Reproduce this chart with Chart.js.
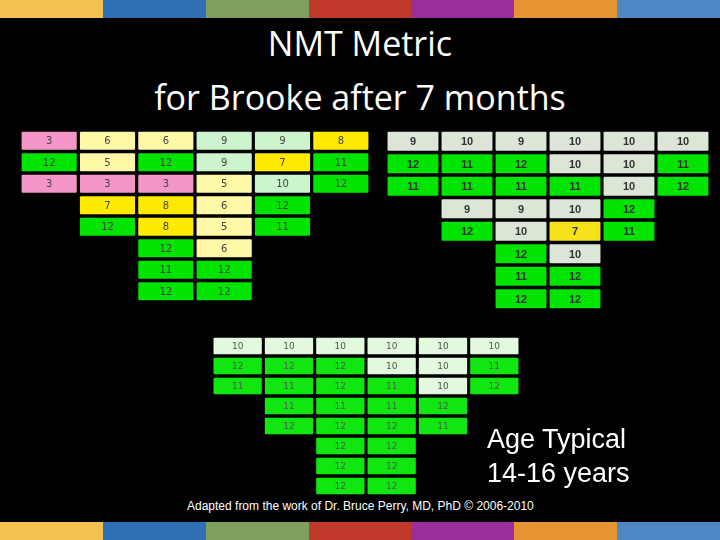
<!DOCTYPE html>
<html><head><meta charset="utf-8">
<script src="https://cdn.jsdelivr.net/npm/chart.js@4/dist/chart.umd.min.js"></script>
<style>
body{margin:0;background:#000;width:720px;height:540px;overflow:hidden;position:relative;font-family:"Open Sans","Liberation Sans",sans-serif;}
.stripe{position:absolute;left:0;width:720px;height:18px;display:flex}
.stripe div{flex:1}
.box{position:absolute}
#title{position:absolute;left:0;top:16px;width:720px;text-align:center;color:#fff;font-size:34px;line-height:54px}
#age{position:absolute;left:487px;top:422px;color:#fff;font-family:"Liberation Sans",Arial,sans-serif;font-size:27px;line-height:34px}
#credit{position:absolute;left:187px;top:499px;color:#fff;font-family:"Liberation Sans",Arial,sans-serif;font-size:12px}
</style></head><body>
<div class="stripe" style="top:0"><div style="background:#f2c14e"></div><div style="background:#2f6fb5"></div><div style="background:#7f9f5f"></div><div style="background:#c0392b"></div><div style="background:#9a2e9a"></div><div style="background:#e69433"></div><div style="background:#4f87c5"></div></div>
<div class="stripe" style="top:522px"><div style="background:#f2c14e"></div><div style="background:#2f6fb5"></div><div style="background:#7f9f5f"></div><div style="background:#c0392b"></div><div style="background:#9a2e9a"></div><div style="background:#e69433"></div><div style="background:#4f87c5"></div></div>
<div id="title">NMT Metric<br>for Brooke after 7 months</div>
<div class="box" style="left:20px;top:130px;width:350px;height:172px"><canvas id="c1"></canvas></div>
<div class="box" style="left:386px;top:130px;width:324px;height:180px"><canvas id="c2"></canvas></div>
<div class="box" style="left:212px;top:336px;width:308px;height:160px"><canvas id="c3"></canvas></div>
<div id="age">Age Typical<br>14-16 years</div>
<div id="credit">Adapted from the work of Dr. Bruce Perry, MD, PhD © 2006-2010</div>
<script>
const rowLabels = ['1','2','3','4','5','6','7','8'];
const rowOffsets = [0,0,0,1,1,2,2,2];
const leftRows = [[3,6,6,9,9,8],[12,5,12,9,7,11],[3,3,3,5,10,12],[7,8,6,12],[12,8,5,11],[12,6],[11,12],[12,12]];
const rightRows = [[9,10,9,10,10,10],[12,11,12,10,10,11],[11,11,11,11,10,12],[9,9,10,12],[12,10,7,11],[12,10],[11,12],[12,12]];
const bottomRows = [[10,10,10,10,10,10],[12,12,12,10,10,11],[11,11,12,11,10,12],[11,11,11,12],[12,12,12,11],[12,12],[12,12],[12,12]];
function leftColor(v){ if(v<=4) return '#f596c8'; if(v<=6) return '#fff8a6'; if(v<=8) return '#ffea00'; if(v<=10) return '#cdf5cd'; return '#00e400'; }
function rightColor(v){ if(v<=8) return '#f5e21a'; if(v<=10) return '#dce6d6'; return '#00e400'; }
function bottomColor(v){ if(v<=10) return '#e2f9de'; return '#10e610'; }
const labelPlugin = {id:'cellLabels', afterDatasetsDraw(chart){
  const ctx=chart.ctx; ctx.save(); ctx.font=chart.options.plugins.cellLabels.font; ctx.textAlign='center'; ctx.textBaseline='middle';
  chart.data.datasets.forEach((ds,di)=>{ const meta=chart.getDatasetMeta(di);
    meta.data.forEach((el,i)=>{ const v=ds.values[i]; if(v==null) return;
      ctx.fillStyle=chart.options.plugins.cellLabels.color; ctx.fillText(String(v),(el.x+el.base)/2,el.y+1); });});
  ctx.restore(); }};
function make(id, rows, colorFn, font, txt){
  const datasets=[];
  for(let c=0;c<6;c++){
    const values=rows.map((r,i)=>{const k=c-rowOffsets[i]; return (k>=0&&k<r.length)?r[k]:null;});
    datasets.push({values, data: values.map(v=>v==null?null:[c+0.01,c+0.99]),
      backgroundColor: values.map(v=>v==null?'transparent':colorFn(v)),
      borderColor:'rgba(0,0,0,0.35)', borderWidth:1, borderRadius:2, borderSkipped:false,
      barPercentage:0.93, categoryPercentage:1, grouped:false});
  }
  new Chart(document.getElementById(id),{type:'bar',data:{labels:rowLabels,datasets},
    options:{indexAxis:'y',responsive:true,maintainAspectRatio:false,animation:false,
      layout:{padding:0},
      scales:{x:{type:'linear',min:0,max:6,display:false},y:{display:false}},
      plugins:{legend:{display:false},tooltip:{enabled:false},cellLabels:{font,color:txt}}},
    plugins:[labelPlugin]});
}
make('c1',leftRows,leftColor,'10px "DejaVu Sans"','#444');
make('c2',rightRows,rightColor,'bold 11px "Liberation Sans"','#333');
make('c3',bottomRows,bottomColor,'9px "DejaVu Sans"','#555');
</script></body></html>
